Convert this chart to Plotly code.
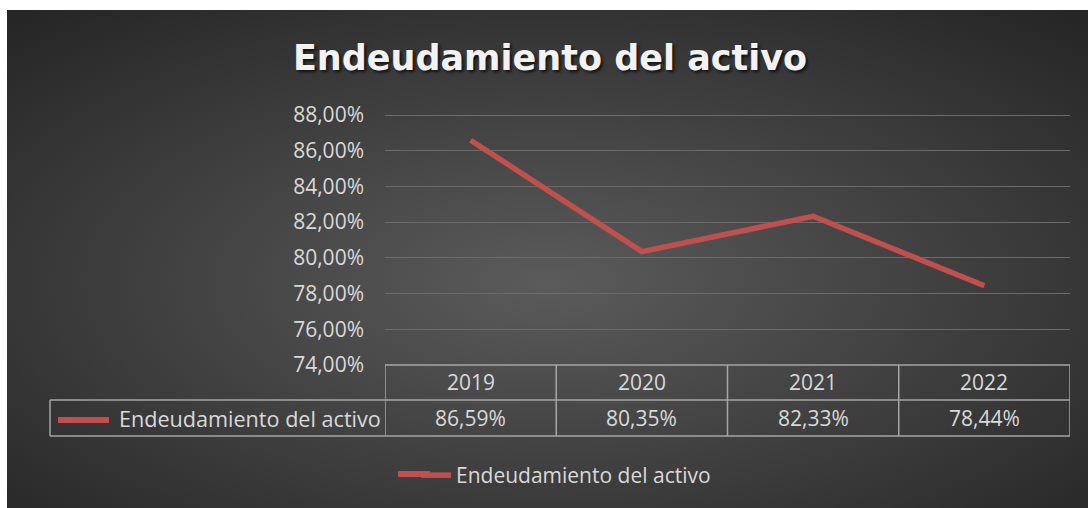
import base64
import plotly.graph_objects as go

# ---- data ----
years = ["2019", "2020", "2021", "2022"]
values = [0.8659, 0.8035, 0.8233, 0.7844]
series_name = "Endeudamiento del activo"
chart_title = "Endeudamiento del activo"
y_min, y_max, y_step = 0.74, 0.88, 0.02

# ---- geometry (pixels) ----
W, H = 1088, 508
L, R, T, B = 385, 18, 113, 143
PW, PH = W - L - R, H - T - B
# keep 88% at y=115 px while leaving room so its gridline is drawn
y_top = y_min + (y_max - y_min) * PH / (PH - 2)


def px(x):
    return (x - L) / PW


def py(y):
    return (H - B - y) / PH


LINE_RED = "#c0504d"
TXT = "#d9d9d9"
BORDER = "#a6a6a6"
FONT = "Open Sans"
FS = 21

# radial gradient background as an SVG data URI
svg = (
    '<svg xmlns="http://www.w3.org/2000/svg" width="100" height="100" preserveAspectRatio="none">'
    '<defs><radialGradient id="g" cx="0.5" cy="0.55" r="0.72">'
    '<stop offset="0" stop-color="#5b5b5b"/><stop offset="1" stop-color="#262626"/>'
    '</radialGradient></defs><rect width="100" height="100" fill="url(#g)"/></svg>'
)
bg_src = "data:image/svg+xml;base64," + base64.b64encode(svg.encode()).decode()

fig = go.Figure()
fig.add_trace(
    go.Scatter(
        x=years,
        y=values,
        mode="lines",
        name=series_name,
        line=dict(color=LINE_RED, width=5.5),
        showlegend=True,
    )
)

shapes = []
# table horizontal lines
shapes.append(dict(type="line", xref="paper", yref="paper", x0=0, x1=1, y0=py(365), y1=py(365),
                   line=dict(color=BORDER, width=1.5)))
for yy in (400, 436):
    shapes.append(dict(type="line", xref="paper", yref="paper", x0=px(50), x1=1, y0=py(yy), y1=py(yy),
                       line=dict(color=BORDER, width=1.5)))
# left vertical of row label cell
shapes.append(dict(type="line", xref="paper", yref="paper", x0=px(50), x1=px(50), y0=py(400), y1=py(436),
                   line=dict(color=BORDER, width=1.5)))
# category boundaries
for i in range(len(years) + 1):
    xb = i - 0.5
    shapes.append(dict(type="line", xref="x", yref="paper", x0=xb, x1=xb, y0=py(365), y1=py(436),
                       line=dict(color=BORDER, width=1.5)))
# legend key in table
shapes.append(dict(type="line", xref="paper", yref="paper", x0=px(58), x1=px(109), y0=py(420), y1=py(420),
                   line=dict(color=LINE_RED, width=6)))
# extend bottom legend key to the left
shapes.append(dict(type="line", xref="paper", yref="paper", x0=px(398), x1=px(430), y0=py(474), y1=py(474),
                   line=dict(color=LINE_RED, width=6)))

annotations = []
for i, (yr, v) in enumerate(zip(years, values)):
    annotations.append(dict(x=i, xref="x", y=py(382), yref="paper", text=yr, showarrow=False,
                            font=dict(family=FONT, size=FS, color=TXT), xanchor="center", yanchor="middle"))
    label = f"{v * 100:.2f}%".replace(".", ",")
    annotations.append(dict(x=i, xref="x", y=py(418), yref="paper", text=label, showarrow=False,
                            font=dict(family=FONT, size=FS, color=TXT), xanchor="center", yanchor="middle"))
annotations.append(dict(x=px(383), xref="paper", y=py(418), yref="paper", text=series_name, showarrow=False,
                        font=dict(family=FONT, size=21.6, color=TXT), xanchor="right", yanchor="middle"))

fig.update_layout(
    width=W,
    height=H,
    margin=dict(l=L, r=R, t=T, b=B, pad=0),
    paper_bgcolor="white",
    plot_bgcolor="rgba(0,0,0,0)",
    separators=",.",
    title=dict(
        text=chart_title,
        x=550 / W,
        xanchor="center",
        y=1 - 58 / H,
        yanchor="middle",
        font=dict(family="DejaVu Sans", size=35, color="#f2f2f2", weight="bold",
                  shadow="2px 2px 3px rgba(0,0,0,0.7)"),
    ),
    images=[dict(source=bg_src, xref="paper", yref="paper", x=px(7), y=py(10),
                 sizex=px(W) - px(7), sizey=py(10) - py(H), sizing="stretch",
                 xanchor="left", yanchor="top", layer="below")],
    shapes=shapes,
    annotations=annotations,
    xaxis=dict(
        type="category",
        range=[-0.5, len(years) - 0.5],
        showticklabels=False,
        showgrid=False,
        zeroline=False,
        showline=False,
        ticks="",
    ),
    yaxis=dict(
        range=[y_min, y_top],
        dtick=y_step,
        tick0=y_min,
        tickformat=".2%",
        showgrid=True,
        gridcolor="#6b6b6b",
        gridwidth=1.2,
        zeroline=False,
        showline=False,
        ticks="",
        ticklabelstandoff=20,
        tickfont=dict(family=FONT, size=FS, color=TXT),
    ),
    showlegend=True,
    legend=dict(
        orientation="h",
        x=px(416),
        xanchor="left",
        y=py(455),
        yanchor="top",
        bgcolor="rgba(0,0,0,0)",
        font=dict(family=FONT, size=FS, color=TXT),
        itemwidth=30,
    ),
)

fig.write_html("out.html", config={"displayModeBar": False},
               post_script="document.body.style.margin='0';")
